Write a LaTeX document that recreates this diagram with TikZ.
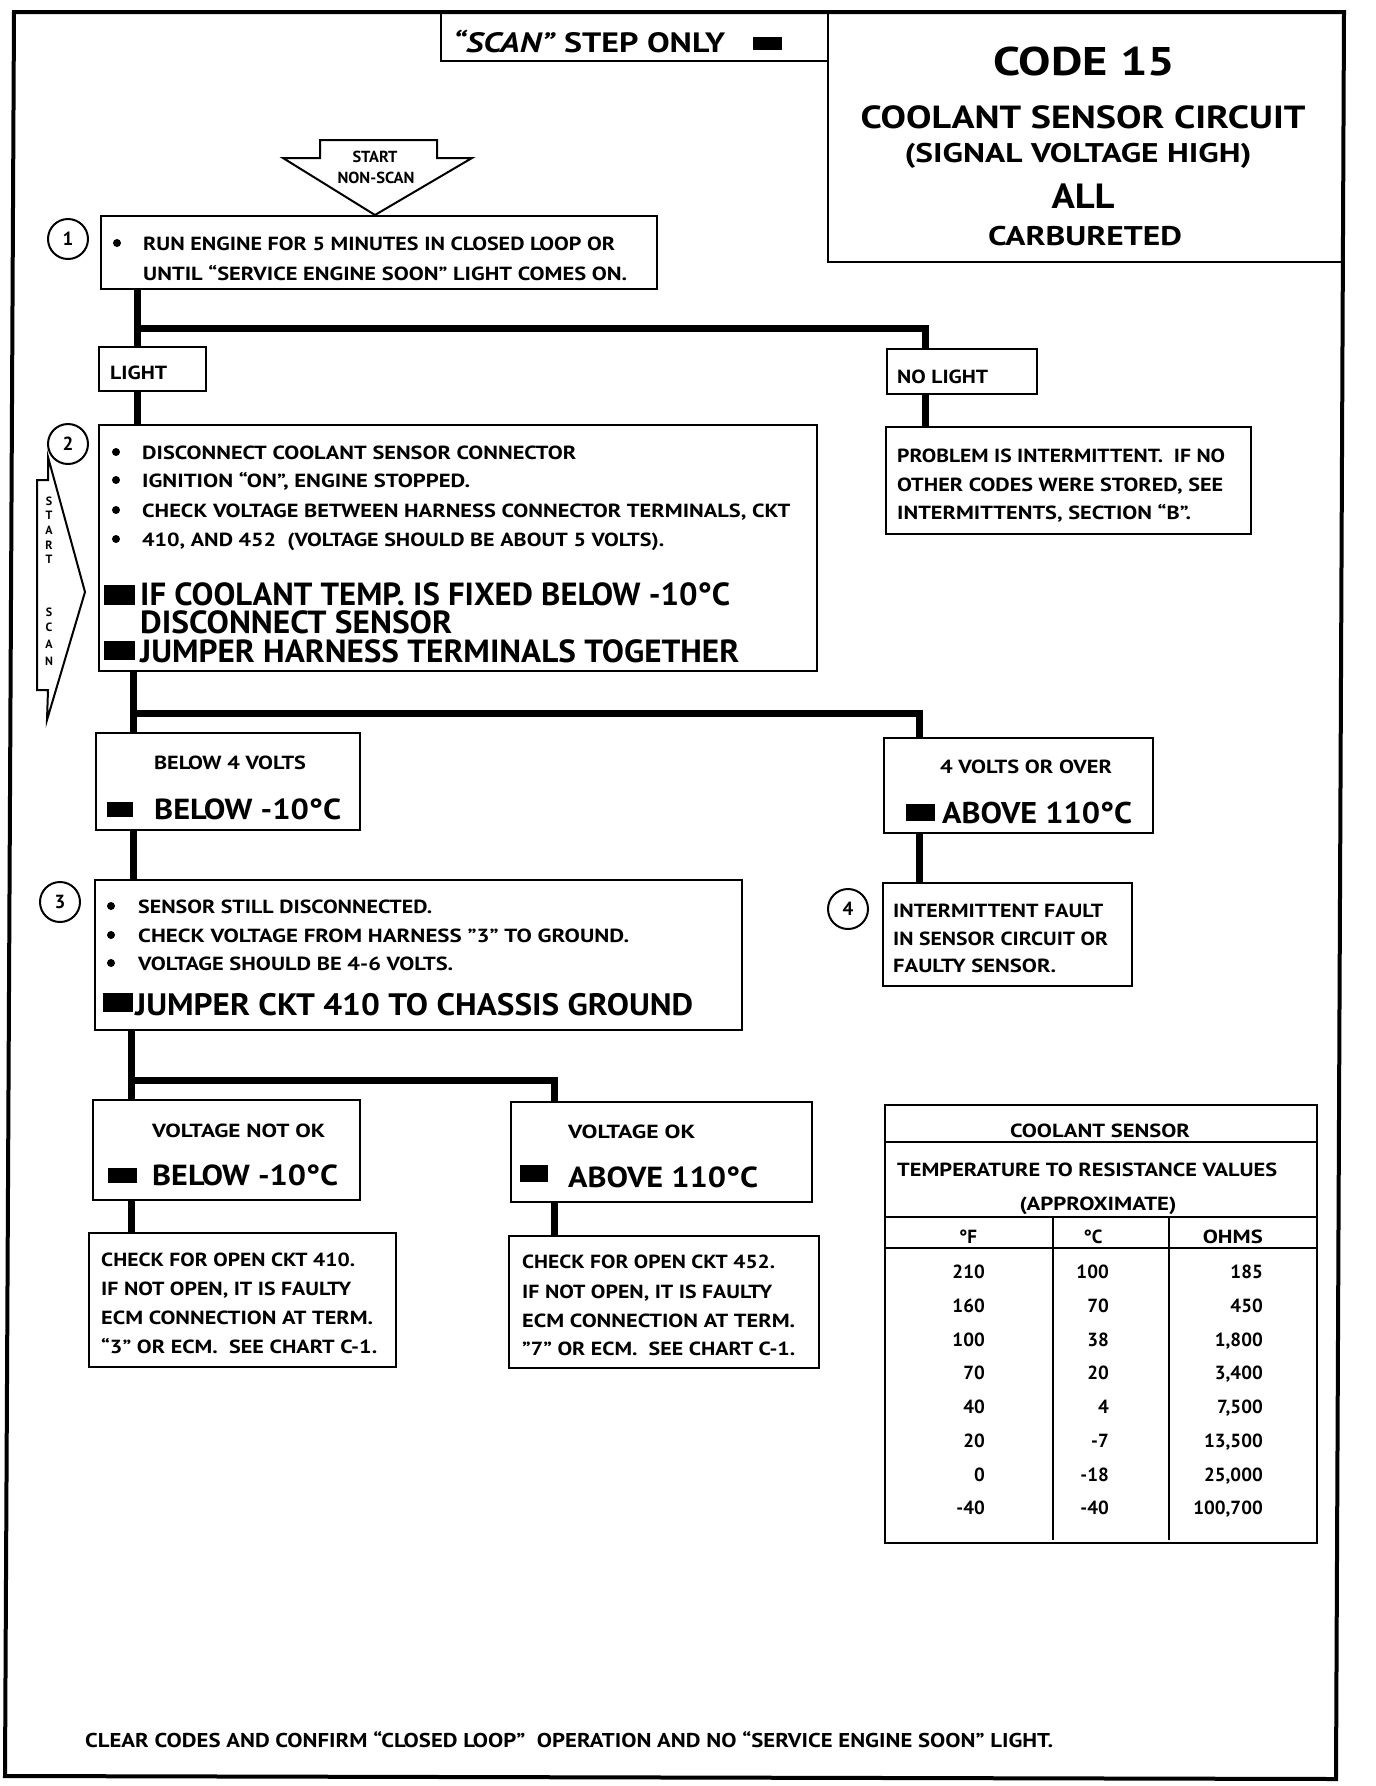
\documentclass[tikz,border=0pt]{standalone}
\usepackage{graphicx}
\usepackage{fontspec}
\setmainfont{PT Sans}
\newlength\fitlen
\newcommand\fitto[2]{\settowidth\fitlen{#2}\pgfmathsetmacro\fitsx{#1/\fitlen}\scalebox{\fitsx}[1]{#2}}
\newcommand\bx[5]{\node[box, minimum width={#4-#2}, minimum height={#5-#3}] (#1) at (#2,#3) {};}
\newcommand\sq{\symbol{34}}
\tikzset{
  box/.style={draw, line width=2.5pt, anchor=north west, inner sep=0pt, outer sep=0pt},
  conn/.style={line width=7pt, line join=miter},
  frame/.style={line width=4pt, line join=miter},
  thinarrow/.style={line width=2pt, line join=miter},
  tline/.style={line width=2.5pt},
  n/.style={anchor=base west, inner sep=0pt, font=\bfseries\fontsize{19}{19}\selectfont},
  nc/.style={n, anchor=base},
  ne/.style={n, anchor=base east},
  fs/.style={font=\bfseries\fontsize{#1}{#1}\selectfont},
  circ/.style={draw, circle, line width=2pt, minimum size=40pt, inner sep=0pt, font=\bfseries\fontsize{19}{19}\selectfont},
}
\begin{document}
\begin{tikzpicture}[x=1pt, y=-1pt]
\fill[white] (0,0) rectangle (1376,1786);
\useasboundingbox (0,0) rectangle (1376,1786);
% frame
\draw[frame] (14,12) -- (1344,12) -- (1336,1779) -- (5,1776) -- cycle;
% scan step only
\bx{scan}{441}{12}{828}{61}
\node[n, fs=28] (scant) at (453,52) {\fitto{272}{\textit{“SCAN”} STEP ONLY}};
\fill (753,37) rectangle (782,50);
% title
\bx{title}{828}{12}{1343}{262}
\node[nc, fs=40] (code) at (1084,75) {\fitto{182}{CODE 15}};
\node[nc, fs=32] (tt1) at (1083,128) {\fitto{445}{COOLANT SENSOR CIRCUIT}};
\node[nc, fs=27] (tt2) at (1078,162) {\fitto{347}{(SIGNAL VOLTAGE HIGH)}};
\node[nc, fs=35] (tt3) at (1083,208) {\fitto{63}{ALL}};
\node[nc, fs=27] (tt4) at (1085,245) {\fitto{194}{CARBURETED}};
% start non-scan arrow
\draw[thinarrow] (320,140) -- (437,140) -- (437,158) -- (472,158) -- (375,215) -- (283,158) -- (320,158) -- cycle;
\node[nc, fs=16] (st1) at (375,162) {\fitto{45}{START}};
\node[nc, fs=16] (st2) at (376,183) {\fitto{77}{NON-SCAN}};
% box 1
\bx{b1}{101}{216}{657}{289}
\node[circ] (c1) at (68,239) {1};
\fill (117,243) circle (4pt);
\node[n] (b1a) at (143,250) {\fitto{472}{RUN ENGINE FOR 5 MINUTES IN CLOSED LOOP OR}};
\node[n] (b1b) at (143,280) {\fitto{484}{UNTIL “SERVICE ENGINE SOON” LIGHT COMES ON.}};
% light / no light
\bx{light}{99}{347}{206}{391}
\node[n] (lightt) at (110,379) {\fitto{57}{LIGHT}};
\bx{nol}{887}{349}{1037}{394}
\node[n] (nolt) at (897,383) {\fitto{91}{NO LIGHT}};
\bx{prob}{886}{427}{1251}{534}
\node[n] (pr1) at (897,462) {\fitto{328}{PROBLEM IS INTERMITTENT.\ \ IF NO}};
\node[n] (pr2) at (897,491) {\fitto{326}{OTHER CODES WERE STORED, SEE}};
\node[n] (pr3) at (897,519) {\fitto{294}{INTERMITTENTS, SECTION “B”.}};
% box 2
\bx{b2}{99}{425}{817}{671}
\node[circ] (c2) at (68,444) {2};
\foreach \yy in {452,480,510,539} {\fill (116,\yy) circle (4pt);}
\node[n] (b2a) at (142,459) {\fitto{434}{DISCONNECT COOLANT SENSOR CONNECTOR}};
\node[n] (b2b) at (142,487) {\fitto{328}{IGNITION “ON”, ENGINE STOPPED.}};
\node[n] (b2c) at (142,517) {\fitto{648}{CHECK VOLTAGE BETWEEN HARNESS CONNECTOR TERMINALS, CKT}};
\node[n] (b2d) at (142,546) {\fitto{522}{410, AND 452\ \ (VOLTAGE SHOULD BE ABOUT 5 VOLTS).}};
\fill (104,585) rectangle (135,605);
\fill (104,641) rectangle (135,660);
\node[n, font=\bfseries\fontsize{32}{27.5}\selectfont] (b2e) at (140,605)
  {\begin{tabular}[t]{@{}l@{}}\fitto{590}{IF COOLANT TEMP. IS FIXED BELOW -10°C}\\[-2.5pt]
   \fitto{312}{DISCONNECT SENSOR}\\[-2.5pt]
   \fitto{599}{JUMPER HARNESS TERMINALS TOGETHER}\end{tabular}};
% start scan arrow
\draw[thinarrow] (48,457) -- (85,592) -- (47,720) -- (48,690) -- (37,690) -- (37,480) -- (48,480) -- cycle;
\foreach \ch/\yy [count=\i] in {S/501,T/515,A/530,R/545,T/559,S/612,C/627,A/644,N/661}
  {\node[anchor=center, inner sep=0pt, font=\bfseries\fontsize{12}{12}\selectfont] (ss\i) at (49,\yy) {\ch};}
% below 4 volts / 4 volts or over
\bx{bl4}{96}{733}{360}{830}
\node[nc] (bl4a) at (230,769) {\fitto{152}{BELOW 4 VOLTS}};
\fill (107,802) rectangle (133,817);
\node[n, fs=29] (bl4b) at (154,819) {\fitto{187}{BELOW -10°C}};
\bx{ov4}{884}{738}{1153}{833}
\node[nc] (ov4a) at (1026,773) {\fitto{172}{4 VOLTS OR OVER}};
\fill (906,804) rectangle (935,821);
\node[n, fs=30] (ov4b) at (942,823) {\fitto{190}{ABOVE 110°C}};
% box 4
\bx{b4}{883}{883}{1132}{986}
\node[circ] (c4) at (848,909) {4};
\node[n] (b4a) at (893,917) {\fitto{210}{INTERMITTENT FAULT}};
\node[n] (b4b) at (893,945) {\fitto{215}{IN SENSOR CIRCUIT OR}};
\node[n] (b4c) at (893,972) {\fitto{163}{FAULTY SENSOR.}};
% box 3
\bx{b3}{95}{880}{742}{1030}
\node[circ] (c3) at (60,902) {3};
\foreach \yy in {906,935,963} {\fill (111,\yy) circle (4pt);}
\node[n] (b3a) at (138,913) {\fitto{294}{SENSOR STILL DISCONNECTED.}};
\node[n] (b3b) at (138,942) {\fitto{491}{CHECK VOLTAGE FROM HARNESS \sq3\sq\ TO GROUND.}};
\node[n] (b3c) at (138,970) {\fitto{315}{VOLTAGE SHOULD BE 4-6 VOLTS.}};
\fill (103,993) rectangle (133,1012);
\node[n, fs=31] (b3d) at (135,1015) {\fitto{558}{JUMPER CKT 410 TO CHASSIS GROUND}};
% voltage not ok
\bx{vnok}{93}{1100}{360}{1200}
\node[n] (vnoka) at (152,1137) {\fitto{173}{VOLTAGE NOT OK}};
\fill (108,1168) rectangle (137,1183);
\node[n, fs=29] (vnokb) at (152,1185) {\fitto{186}{BELOW -10°C}};
\bx{chkl}{89}{1233}{396}{1367}
\node[n] (cl1) at (101,1266) {\fitto{254}{CHECK FOR OPEN CKT 410.}};
\node[n] (cl2) at (101,1295) {\fitto{250}{IF NOT OPEN, IT IS FAULTY}};
\node[n] (cl3) at (101,1324) {\fitto{272}{ECM CONNECTION AT TERM.}};
\node[n] (cl4) at (101,1353) {\fitto{276}{“3” OR ECM.\ \ SEE CHART C-1.}};
% voltage ok
\bx{vok}{511}{1102}{812}{1202}
\node[n] (voka) at (568,1138) {\fitto{127}{VOLTAGE OK}};
\fill (520,1165) rectangle (548,1182);
\node[n, fs=29] (vokb) at (568,1187) {\fitto{190}{ABOVE 110°C}};
\bx{chkr}{509}{1236}{819}{1368}
\node[n] (cr1) at (522,1268) {\fitto{253}{CHECK FOR OPEN CKT 452.}};
\node[n] (cr2) at (522,1298) {\fitto{250}{IF NOT OPEN, IT IS FAULTY}};
\node[n] (cr3) at (522,1327) {\fitto{273}{ECM CONNECTION AT TERM.}};
\node[n] (cr4) at (522,1355) {\fitto{273}{\sq7\sq\ OR ECM.\ \ SEE CHART C-1.}};
% connectors
\coordinate (tA) at (137,0); \coordinate (tB) at (133,0); \coordinate (tD) at (131,0);
\coordinate (rA) at (925,0); \coordinate (rB) at (919,0); \coordinate (rD) at (554,0);
\coordinate (jA) at (137,328); \coordinate (jB) at (133,713); \coordinate (jD) at (131,1080);
\draw[conn] (b1.south -| tA) -- (light.north -| tA);
\draw[conn] (light.south -| tA) -- (b2.north -| tA);
\draw[conn] (jA) -| (nol.north -| rA);
\draw[conn] (nol.south -| rA) -- (prob.north -| rA);
\draw[conn] (b2.south -| tB) -- (bl4.north -| tB);
\draw[conn] (jB) -| (ov4.north -| rB);
\draw[conn] (bl4.south -| tB) -- (b3.north -| tB);
\draw[conn] (ov4.south -| rB) -- (b4.north -| rB);
\draw[conn] (b3.south -| tD) -- (vnok.north -| tD);
\draw[conn] (jD) -| (vok.north -| rD);
\draw[conn] (vnok.south -| tD) -- (chkl.north -| tD);
\draw[conn] (vok.south -| rD) -- (chkr.north -| rD);
% table
\bx{tbl}{885}{1105}{1317}{1543}
\draw[tline] (885,1142) -- (1317,1142);
\draw[tline] (885,1217) -- (1317,1217);
\draw[tline] (885,1248) -- (1317,1248);
\draw[tline] (1053,1217) -- (1053,1540);
\draw[tline] (1169,1217) -- (1169,1540);
\node[nc] (th1) at (1100,1137) {\fitto{180}{COOLANT SENSOR}};
\node[n] (th2) at (897,1176) {\fitto{380}{TEMPERATURE TO RESISTANCE VALUES}};
\node[nc] (th3) at (1098,1210) {\fitto{157}{(APPROXIMATE)}};
\node[nc] (hF) at (968,1243) {°F};
\node[nc] (hC) at (1093,1243) {°C};
\node[ne] (hO) at (1263,1243) {\fitto{60}{OHMS}};
\foreach \f/\c/\o/\yy [count=\i] in {210/100/185/1278,160/70/450/1312,100/38/{1,800}/1346,70/20/{3,400}/1379,40/4/{7,500}/1413,20/-7/{13,500}/1447,0/-18/{25,000}/1481,-40/-40/{100,700}/1514}
{
  \node[ne] (rf\i) at (985,\yy) {\f};
  \node[ne] (rc\i) at (1109,\yy) {\c};
  \node[ne] (ro\i) at (1263,\yy) {\o};
}
% footer
\node[n, fs=20] (foot) at (85,1747) {\fitto{968}{CLEAR CODES AND CONFIRM “CLOSED LOOP”\ \ OPERATION AND NO “SERVICE ENGINE SOON” LIGHT.}};
\end{tikzpicture}
\end{document}
